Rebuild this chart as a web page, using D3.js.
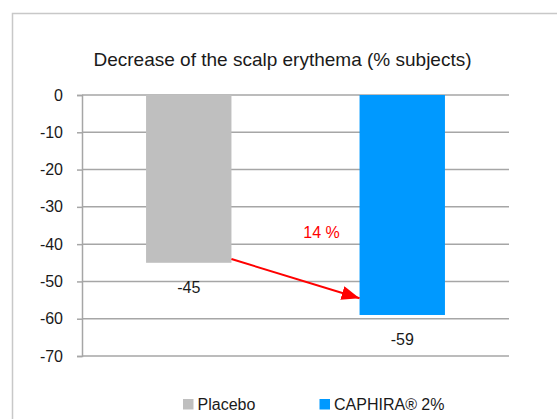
<!DOCTYPE html>
<html>
<head>
<meta charset="utf-8">
<script src="https://cdn.jsdelivr.net/npm/d3@7"></script>
<style>
  body { margin: 0; background: #fff; }
  svg { display: block; font-family: "Liberation Sans", Arial, sans-serif; }
</style>
</head>
<body>
<div id="chart"></div>
<script>
const categories = ["Placebo", "CAPHIRA® 2%"];
const values = [-45, -59];
const barColors = ["#bfbfbf", "#0099ff"];
const yTicks = [0, -10, -20, -30, -40, -50, -60, -70];
const chartTitle = "Decrease of the scalp erythema (% subjects)";
// arrow between the bars: [category, value] start and end, plus its label
const arrowFrom = ["Placebo", -44];
const arrowTo = ["CAPHIRA® 2%", -54.5];
const arrowLabel = "14 %";
const arrowLabelValue = -38.3;

const width = 557;
const height = 419;

const svg = d3.select("#chart")
	.append("svg")
	.attr("width", width)
	.attr("height", height);

// outer frame (runs off the right and bottom edge)
svg.append("rect")
	.attr("x", 12.5)
	.attr("y", 13.5)
	.attr("width", 700)
	.attr("height", 600)
	.attr("fill", "#fff")
	.attr("stroke", "#c8c8c8")
	.attr("stroke-width", 1.5);

svg.append("text")
	.attr("x", 282.5)
	.attr("y", 66)
	.attr("text-anchor", "middle")
	.attr("font-size", "19px")
	.attr("fill", "#1a1a1a")
	.text(chartTitle);

const x = d3.scaleBand()
	.domain(categories)
	.range([82, 509])
	.paddingInner(0.6)
	.paddingOuter(0.3);

const y = d3.scaleLinear()
	.domain([-70, 0])
	.range([356, 95]);

// ticks + axis line
const yAxis = svg.append("g")
	.attr("transform", "translate(82,0)")
	.call(d3.axisLeft(y).tickValues(yTicks).tickSize(5).tickPadding(14).tickFormat((d) => String(d)));
yAxis.select(".domain").attr("stroke", "#a6a6a6").attr("stroke-width", 1.5);
yAxis.selectAll(".tick line").attr("stroke", "#a6a6a6").attr("stroke-width", 1.5);
yAxis.selectAll(".tick text")
	.attr("font-size", "16px")
	.attr("font-family", "Liberation Sans, Arial, sans-serif")
	.attr("fill", "#1a1a1a");

// gridlines
svg.append("g")
	.selectAll("line")
	.data(yTicks)
	.enter()
	.append("line")
	.attr("x1", 82)
	.attr("x2", 509)
	.attr("y1", (d) => y(d))
	.attr("y2", (d) => y(d))
	.attr("stroke", "#a6a6a6")
	.attr("stroke-width", 1.5);

// bars
svg.append("g")
	.selectAll("rect")
	.data(values)
	.enter()
	.append("rect")
	.attr("x", (_d, i) => x(categories[i]))
	.attr("y", y(0))
	.attr("width", x.bandwidth())
	.attr("height", (d) => y(d) - y(0))
	.attr("fill", (_d, i) => barColors[i]);

// value labels below bars
svg.append("g")
	.selectAll("text")
	.data(values)
	.enter()
	.append("text")
	.attr("x", (_d, i) => x(categories[i]) + x.bandwidth() / 2)
	.attr("y", (d) => y(d) + 30)
	.attr("text-anchor", "middle")
	.attr("font-size", "16px")
	.attr("fill", "#1a1a1a")
	.text((d) => d);

// red arrow
svg.append("defs")
	.append("marker")
	.attr("id", "arrowHead")
	.attr("markerUnits", "userSpaceOnUse")
	.attr("markerWidth", 18)
	.attr("markerHeight", 14)
	.attr("refX", 18)
	.attr("refY", 7)
	.attr("orient", "auto")
	.append("path")
	.attr("d", "M0,0 L18,7 L0,14 Z")
	.attr("fill", "#ff0000");

svg.append("line")
	.attr("x1", x(arrowFrom[0]) + x.bandwidth())
	.attr("y1", y(arrowFrom[1]))
	.attr("x2", x(arrowTo[0]))
	.attr("y2", y(arrowTo[1]))
	.attr("stroke", "#ff0000")
	.attr("stroke-width", 2)
	.attr("marker-end", "url(#arrowHead)");

svg.append("text")
	.attr("x", x(arrowTo[0]) - 38)
	.attr("y", y(arrowLabelValue))
	.attr("text-anchor", "middle")
	.attr("font-size", "16px")
	.attr("fill", "#ff0000")
	.text(arrowLabel);

// legend
const legend = svg.append("g")
	.selectAll("g")
	.data(categories)
	.enter()
	.append("g")
	.attr("transform", (_d, i) => `translate(${[183, 319.5][i]},399)`);
legend.append("rect")
	.attr("width", 10.5)
	.attr("height", 10.5)
	.attr("fill", (_d, i) => barColors[i]);
legend.append("text")
	.attr("x", 14.5)
	.attr("y", 11)
	.attr("font-size", "16px")
	.attr("fill", "#1a1a1a")
	.text((d) => d);
</script>
</body>
</html>
